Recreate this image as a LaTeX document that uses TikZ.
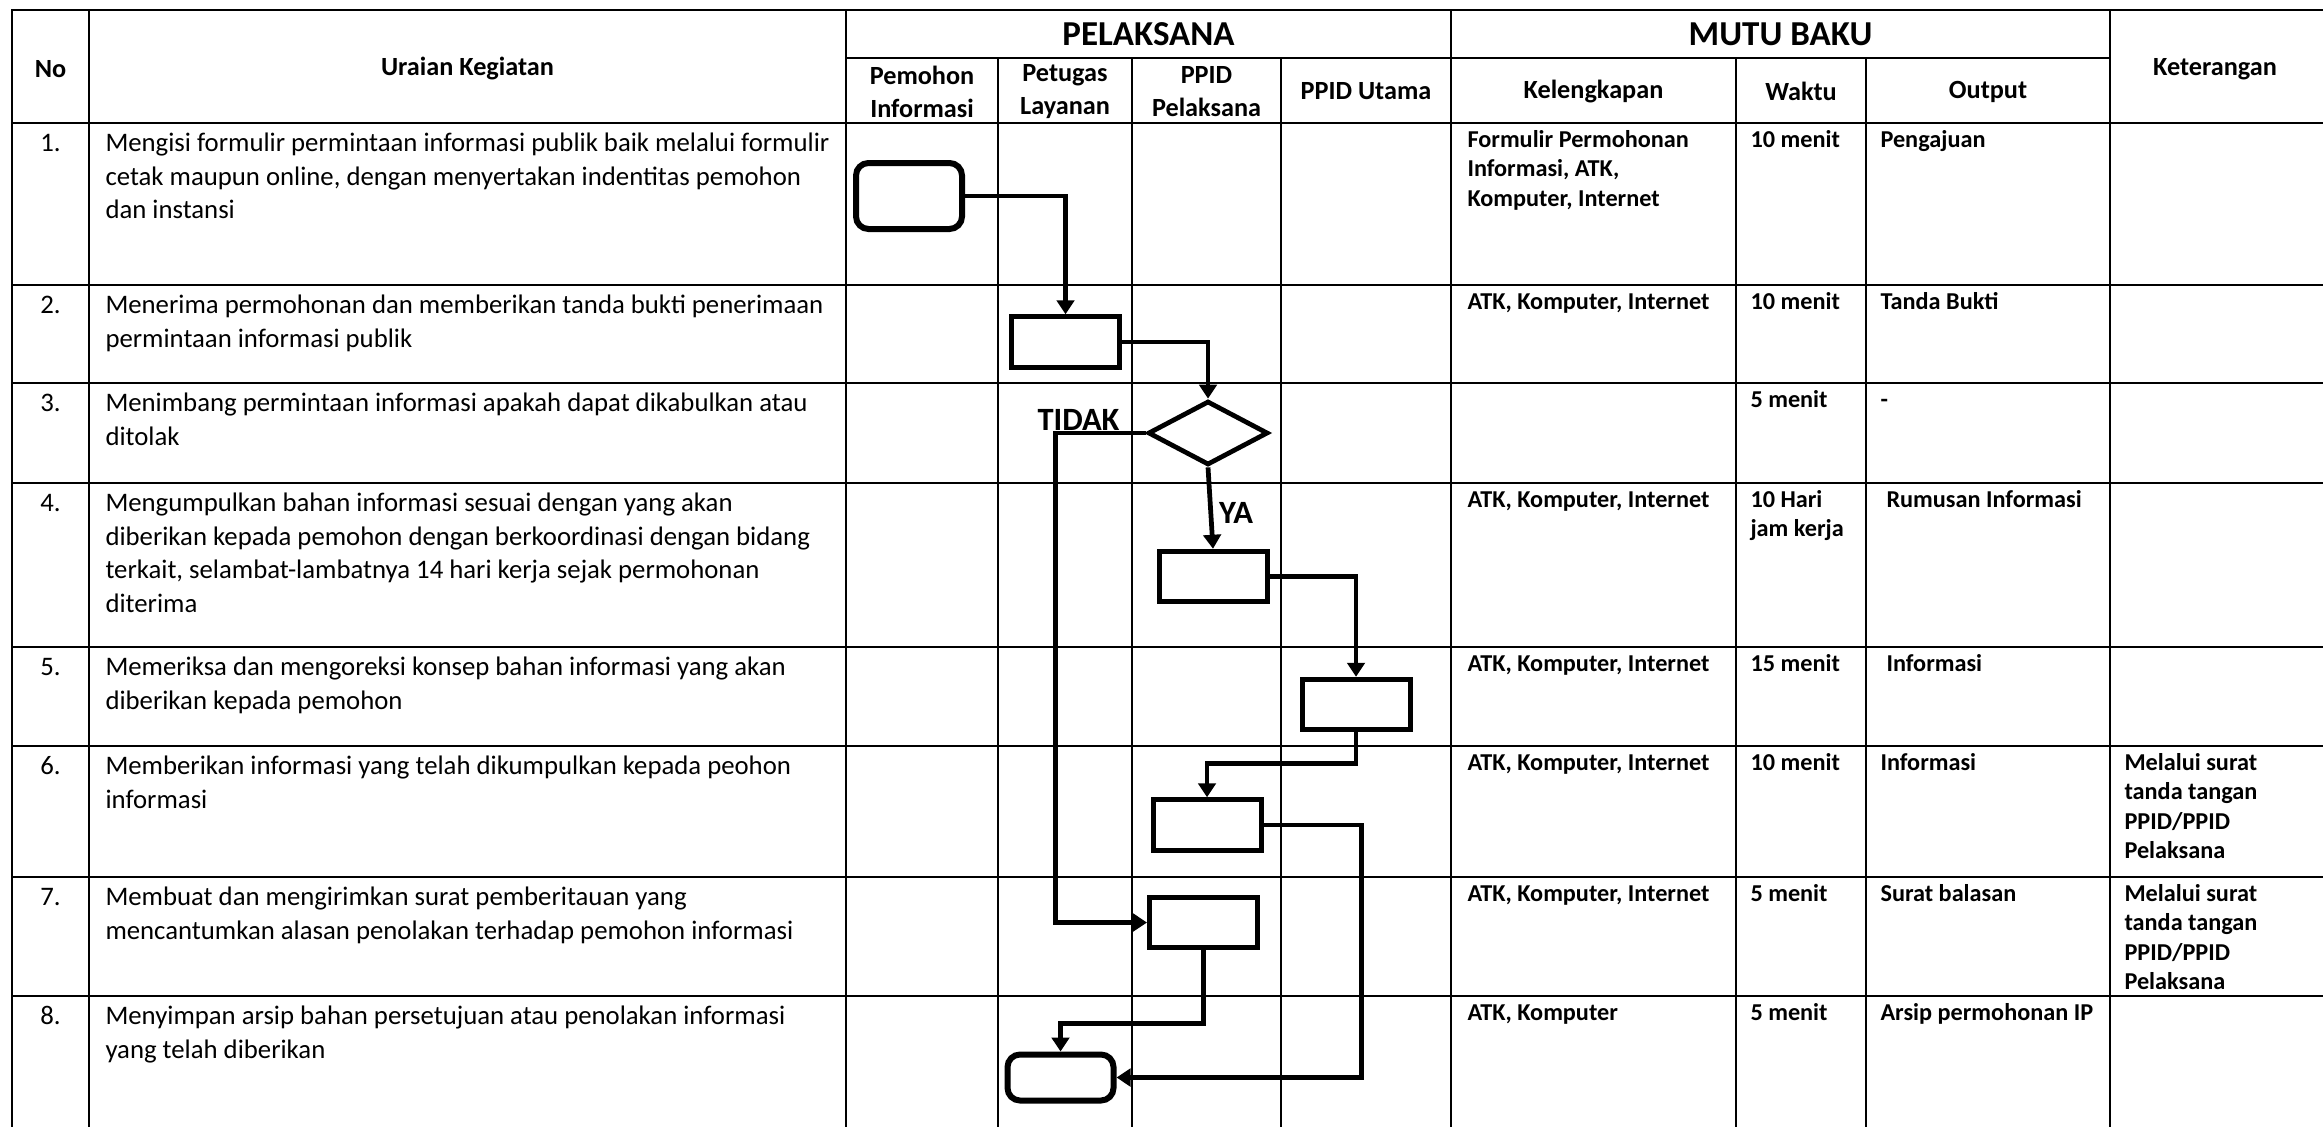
\documentclass[tikz,border=0pt]{standalone}
\usepackage{fontspec}
\setmainfont{Carlito}
\usetikzlibrary{arrows.meta,shapes.geometric}
\tikzset{
  grid/.style={line width=1.1pt, line cap=rect},
  txt/.style={inner sep=0pt, anchor=north west, align=left, font=\fontsize{10.7}{13.4}\selectfont},
  num/.style={txt, anchor=north, align=center},
  std/.style={txt, font=\bfseries\fontsize{9.7}{11.75}\selectfont},
  head/.style={inner sep=0pt, align=center, font=\bfseries\fontsize{10.5}{13.2}\selectfont},
  group/.style={inner sep=0pt, font=\bfseries\fontsize{14}{16}\selectfont},
  answer/.style={inner sep=0pt, anchor=base, font=\bfseries\fontsize{13}{15}\selectfont},
  proc/.style={draw, fill=white, line width=2pt, minimum width=43.2pt, minimum height=20.2pt, inner sep=0pt},
  term/.style={proc, rounded corners=5pt, line width=2.4pt, minimum width=42.4pt},
  decide/.style={draw, fill=white, diamond, line width=1.9pt, minimum width=48pt, minimum height=25.6pt, inner sep=0pt},
  flow/.style={-{Triangle[length=5.6pt,width=7pt]}, line width=1.9pt},
}

\begin{document}
\begin{tikzpicture}[x=0.4pt, y=-0.4pt]
  \useasboundingbox (0,0) rectangle (2323,1126);
  % table
  \draw[grid] (12,10) -- (2323,10);
  \draw[grid] (846,58) -- (2110,58);
  \foreach \y in {123,285,383,483,647,746,877,996} \draw[grid] (12,\y) -- (2323,\y);
  \foreach \x in {12,89,846,1451,2110} \draw[grid] (\x,10) -- (\x,1126);
  \foreach \x in {998,1132,1281,1736,1866} \draw[grid] (\x,58) -- (\x,1126);
  % header
  \node[head] (hno) at (50.5,69) {No};
  \node[head] (hact) at (467.5,69) {Uraian Kegiatan};
  \node[group] (hpel) at (1148.5,34) {PELAKSANA};
  \node[group] (hmutu) at (1780.5,34) {MUTU BAKU};
  \node[head] (hket) at (2215,69) {Keterangan};
  \foreach \x/\name/\lbl in {922/pem/{Pemohon\\Informasi}, 1065/pet/{Petugas\\Layanan},
      1206.5/pel/{PPID\\Pelaksana}, 1366/uta/{PPID Utama}, 1593.5/kel/{Kelengkapan},
      1801/wkt/{Waktu}, 1988/out/{Output}}
    \node[head] (h\name) at (\x,91.5) {\lbl};
  % activities
  \foreach \n/\y/\txt in {
      1/123/{Mengisi formulir permintaan informasi publik baik melalui formulir\\cetak maupun online, dengan menyertakan indentitas pemohon\\dan instansi},
      2/285/{Menerima permohonan dan memberikan tanda bukti penerimaan\\permintaan informasi publik},
      3/383/{Menimbang permintaan informasi apakah dapat dikabulkan atau\\ditolak},
      4/483/{Mengumpulkan bahan informasi sesuai dengan yang akan\\diberikan kepada pemohon dengan berkoordinasi dengan bidang\\terkait, selambat-lambatnya 14 hari kerja sejak permohonan\\diterima},
      5/647/{Memeriksa dan mengoreksi konsep bahan informasi yang akan\\diberikan kepada pemohon},
      6/746/{Memberikan informasi yang telah dikumpulkan kepada peohon\\informasi},
      7/877/{Membuat dan mengirimkan surat pemberitauan yang\\mencantumkan alasan penolakan terhadap pemohon informasi},
      8/996/{Menyimpan arsip bahan persetujuan atau penolakan informasi\\yang telah diberikan}} {
    \node[num] (no\n) at (50.5,\y+4.6) {\strut\n.};
    \node[txt] (act\n) at (105,\y+4.6) {\strut\txt};
  }
  % mutu baku
  \foreach \n/\y/\kel/\wkt/\out in {
      1/123/{Formulir Permohonan\\Informasi, ATK,\\Komputer, Internet}/{10 menit}/{Pengajuan},
      2/285/{ATK, Komputer, Internet}/{10 menit}/{Tanda Bukti},
      3/383/{}/{5 menit}/{-},
      4/483/{ATK, Komputer, Internet}/{10 Hari\\jam kerja}/{\hspace{2.4pt}Rumusan Informasi},
      5/647/{ATK, Komputer, Internet}/{15 menit}/{\hspace{2.4pt}Informasi},
      6/746/{ATK, Komputer, Internet}/{10 menit}/{Informasi},
      7/877/{ATK, Komputer, Internet}/{5 menit}/{Surat balasan},
      8/996/{ATK, Komputer}/{5 menit}/{Arsip permohonan IP}} {
    \node[std] (kel\n) at (1467,\y+3.4) {\strut\kel};
    \node[std] (wkt\n) at (1750,\y+3.4) {\strut\wkt};
    \node[std] (out\n) at (1880,\y+3.4) {\strut\out};
  }
  \foreach \n/\y in {6/746, 7/877}
    \node[std] (ket\n) at (2124,\y+3.4) {\strut Melalui surat\\tanda tangan\\PPID/PPID\\Pelaksana};
  % flow
  \node[term, minimum height=26.4pt] (start) at (909,196) {};
  \node[proc] (recv) at (1065.5,342) {};
  \node[decide] (check) at (1208,433) {};
  \node[proc] (collect) at (1213,576.5) {};
  \node[proc] (review) at (1356,704.5) {};
  \node[proc] (give) at (1207,825) {};
  \node[proc] (refuse) at (1203.5,922.5) {};
  \node[term, minimum height=18.4pt] (archive) at (1060.5,1077.5) {};
  \draw[flow] (start.east) -| (recv.north);
  \draw[flow] (recv.east) -| (check.north);
  \draw[flow] (check.south) -- (collect.north);
  \draw[flow] (check.west) -- ++(-90,0) |- (refuse.west);
  \draw[flow] (collect.east) -| (review.north);
  \draw[flow] (review.south) -- ++(0,31) -| (give.north);
  \draw[flow] (give.east) -- ++(98,0) |- (archive.east);
  \draw[flow] (refuse.south) -- ++(0,73) -| (archive.north);
  \node[answer] (tidak) at (1078.5,430) {TIDAK};
  \node[answer] (ya) at (1236,523) {YA};
\end{tikzpicture}
\end{document}
